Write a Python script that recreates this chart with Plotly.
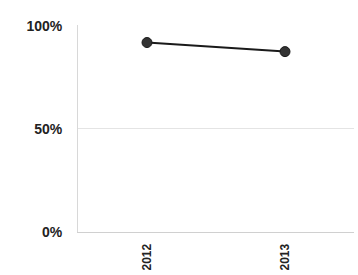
import plotly.graph_objects as go

years = ["2012", "2013"]
values = [0.918, 0.874]
y_ticks = [0, 0.5, 1.0]
y_labels = ["0%", "50%", "100%"]

fig = go.Figure()
fig.add_trace(go.Scatter(
    x=years, y=values, mode="lines+markers",
    line=dict(color="#1a1a1a", width=2),
    marker=dict(color="#333333", size=10, line=dict(color="#1a1a1a", width=1)),
))
fig.update_layout(
    width=358, height=275,
    margin=dict(l=78, r=4, t=25, b=43, autoexpand=False),
    paper_bgcolor="white", plot_bgcolor="white",
    showlegend=False,
    font=dict(family="Liberation Sans, Arial, sans-serif", color="#222222"),
)
fig.update_xaxes(
    type="category", range=[-0.5, 1.5], tickangle=-90, automargin=False,
    showgrid=False, showline=True, linecolor="#d0d0d0", linewidth=1,
    tickfont=dict(size=12, color="#222222", weight="bold"), ticks="",
    ticklabelstandoff=6,
)
fig.update_yaxes(
    range=[0, 1.003], tickvals=y_ticks, ticktext=y_labels, automargin=False,
    showgrid=True, gridcolor="#e4e4e4", gridwidth=1,
    showline=True, linecolor="#d8d8d8", zeroline=False,
    tickfont=dict(size=14, color="#222222", weight="bold"),
    ticks="", ticklabelstandoff=12,
)
fig.write_html(
    "out.html",
    config={"displayModeBar": False},
    post_script="document.body.style.margin='0';document.body.style.overflow='hidden';",
)
